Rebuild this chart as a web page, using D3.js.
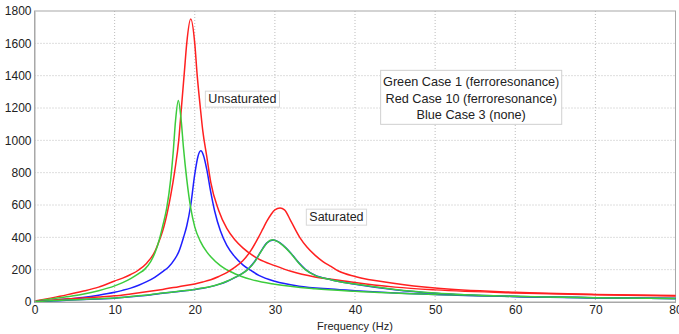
<!DOCTYPE html>
<meta charset="utf-8">
<style>
body { margin: 0; background: #fff; }
svg text { font-family: "Liberation Sans", Arial, sans-serif; }
.grid line { stroke: #bdbdbd; stroke-dasharray: 1,2; }
.axis path, .axis line { stroke: #a8a8a8; }
.axis text { fill: #222; font-size: 12px; }
.line { fill: none; stroke-width: 1.5px; }
</style>
<body>
<div id="container"></div>
<script src="https://cdn.jsdelivr.net/npm/d3@7"></script>
<script>

// tick values
var xTicks = [0, 10, 20, 30, 40, 50, 60, 70, 80];
var yTicks = [0, 200, 400, 600, 800, 1000, 1200, 1400, 1600, 1800];

// unsaturated curves, [frequency, amplitude]
var unsatGreen = [[0,5],[2,18],[4,32],[6,48],[8,70],[10,100],[11,120],[12,145],[13,175],[13.8,205],[14.5,250],[15,300],[15.6,390],[16,470],[16.5,580],[17,760],[17.3,920],[17.6,1120],[17.95,1246],[18.3,1127],[18.6,950],[19,760],[19.5,580],[20,465],[20.7,375],[21.5,310],[22,280],[23.2,225],[25,175],[27,140],[30,110],[35,82],[40,66],[50,46],[60,34],[70,26],[80,21]];
var unsatRed = [[0,5],[2,24],[4,44],[6,66],[8,92],[10,130],[11,148],[12,170],[13,198],[14,240],[15,310],[15.5,370],[16,440],[16.6,560],[17,660],[17.5,810],[18,1000],[18.3,1180],[18.7,1420],[19,1600],[19.5,1750],[20,1600],[20.3,1405],[20.7,1200],[21,1060],[21.5,900],[22,740],[23,565],[24,455],[25,385],[26,335],[28,265],[30,225],[32,190],[35,155],[38,135],[40,120],[45,92],[50,75],[60,56],[70,45],[80,37]];
var unsatBlue = [[0,3],[2,10],[4,18],[6,28],[8,42],[10,60],[11,72],[12,86],[13,104],[14,126],[15,153],[16,188],[16.7,215],[17.5,265],[18,310],[18.6,400],[19,470],[19.5,600],[20,790],[20.4,900],[20.75,935],[21.1,905],[21.5,820],[22,680],[22.5,560],[23.2,440],[24,350],[25,280],[26,230],[27,195],[28,165],[30,128],[33,98],[37,80],[40,70],[45,56],[50,46],[60,34],[70,27],[80,22]];

// saturated curves
var satRed = [[0,3],[2,10],[4,18],[6,25],[8,31],[10,38],[12,50],[14.4,66],[16,78],[18,95],[20,112],[21,124],[22,138],[23,158],[24,182],[24.8,208],[26,255],[27,318],[27.9,395],[28.5,452],[29,500],[29.5,540],[30,570],[30.65,581],[31.2,570],[32,500],[33.1,400],[34,340],[35,290],[36,250],[37,220],[38,190],[40,158],[45,115],[50,86],[60,60],[70,47],[80,40]];
var satGreen = [[0,2],[2,7],[4,12],[6,16],[8,20],[10,24],[12,34],[14.4,45],[16,55],[18,66],[20,78],[21,86],[22,96],[23,110],[24,128],[25,152],[26,178],[26.7,205],[27.5,250],[28,290],[28.5,330],[29,365],[29.7,385],[30.3,375],[31,350],[32,300],[33,240],[33.8,200],[35,165],[37,138],[38,127],[40,111],[45,78],[50,56],[60,35],[70,26],[80,21]];
var satBlue = [[0,2],[2,6],[4,11],[6,15],[8,19],[10,23],[12,33],[14.4,44],[16,54],[18,65],[20,77],[21,85],[22,95],[23,109],[24,127],[25,151],[26,178],[26.7,206],[27.5,252],[28,292],[28.5,332],[29,366],[29.8,384],[30.4,374],[31,352],[32,302],[33,242],[33.8,202],[35,166],[37,138],[38,127],[40,110],[45,76],[50,54],[60,34],[70,26],[80,21]];

var series = [
  {values: unsatBlue, color: "#1f1fff"},
  {values: unsatRed, color: "#ff2020"},
  {values: unsatGreen, color: "#3ccc3c"},
  {values: satRed, color: "#ff2020"},
  {values: satBlue, color: "#1f1fff"},
  {values: satGreen, color: "#3ccc3c"}
];

var legendLines = ["Green Case 1 (ferroresonance)", "Red Case 10 (ferroresonance)", "Blue Case 3 (none)"];

var margin = {top: 11, right: 3.5, bottom: 32, left: 34.5},
    width = 679 - margin.left - margin.right,
    height = 334 - margin.top - margin.bottom;

var x = d3.scaleLinear().domain([0, 80]).range([0, width]);
var y = d3.scaleLinear().domain([0, 1800]).range([height, 0]);

var svg = d3.select("#container")
    .append("svg")
        .attr("width", 679)
        .attr("height", 334)
    .append("g")
        .attr("transform", "translate(" + margin.left + "," + margin.top + ")");

// grid
svg.append("g").attr("class", "grid")
    .selectAll("line").data(xTicks.slice(1, -1)).join("line")
    .attr("x1", d => x(d)).attr("x2", d => x(d))
    .attr("y1", 0).attr("y2", height);
svg.append("g").attr("class", "grid")
    .selectAll("line").data(yTicks.slice(1, -1)).join("line")
    .attr("x1", 0).attr("x2", width)
    .attr("y1", d => y(d)).attr("y2", d => y(d));

// frame
svg.append("rect")
    .attr("width", width).attr("height", height)
    .attr("fill", "none").attr("stroke", "#a8a8a8");

var valueline = d3.line()
    .x(d => x(d[0]))
    .y(d => y(d[1]))
    .curve(d3.curveMonotoneX);

svg.selectAll(".line").data(series).join("path")
    .attr("class", "line")
    .attr("stroke", d => d.color)
    .attr("d", d => valueline(d.values));

// axes
svg.append("g")
    .attr("class", "x axis")
    .attr("transform", "translate(0," + height + ")")
    .call(d3.axisBottom(x).tickValues(xTicks).tickSize(0).tickPadding(3));
svg.append("g")
    .attr("class", "y axis")
    .call(d3.axisLeft(y).tickValues(yTicks).tickFormat(d3.format("d")).tickSize(0).tickPadding(3));

svg.append("text")
    .attr("x", width / 2).attr("y", height + 28)
    .attr("text-anchor", "middle")
    .attr("font-size", "11px").attr("fill", "#222")
    .text("Frequency (Hz)");

// annotation boxes
function label(fx, fy, txt) {
  var g = svg.append("g");
  var t = g.append("text")
      .attr("x", x(fx)).attr("y", y(fy))
      .attr("font-size", "12.5px").attr("fill", "#222")
      .text(txt);
  var b = t.node().getBBox();
  g.insert("rect", "text")
      .attr("x", b.x - 3).attr("y", b.y - 1)
      .attr("width", b.width + 6).attr("height", b.height + 2)
      .attr("fill", "#fff").attr("stroke", "#d8d8d8");
}
label(21.7, 1230, "Unsaturated");
label(34.3, 500, "Saturated");

// legend
var lg = svg.append("g");
lg.append("rect")
    .attr("x", x(43.2)).attr("y", y(1600) + 27)
    .attr("width", x(65.8) - x(43.2)).attr("height", 54)
    .attr("fill", "#fff").attr("stroke", "#d0d0d0");
lg.selectAll("text").data(legendLines).join("text")
    .attr("x", (x(43.2) + x(65.8)) / 2)
    .attr("y", (d, i) => y(1600) + 43 + i * 16.5)
    .attr("text-anchor", "middle")
    .attr("font-size", "12.7px").attr("fill", "#222")
    .text(d => d);

</script>
</body>
